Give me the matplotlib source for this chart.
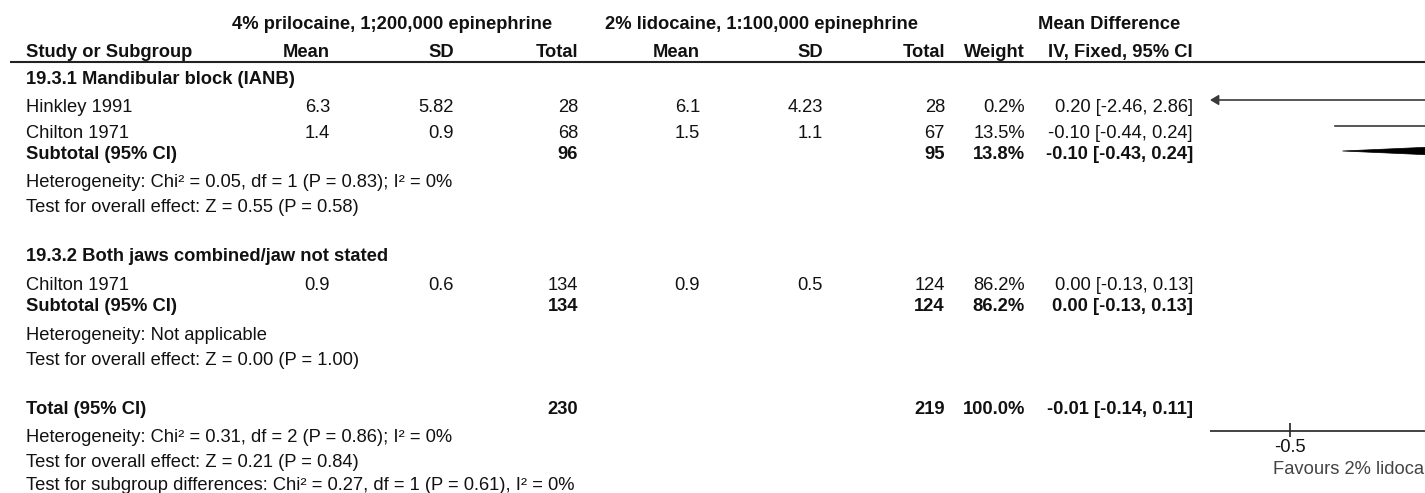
import matplotlib
matplotlib.use("Agg")
import matplotlib.pyplot as plt
from matplotlib.patches import Polygon

plt.rcParams['font.family'] = ['Liberation Sans', 'DejaVu Sans']

# ---- data ----
group_names = ['19.3.1 Mandibular block (IANB)', '19.3.2 Both jaws combined/jaw not stated']
study_names = ['Hinkley 1991', 'Chilton 1971', 'Chilton 1971']
study_group = [0, 0, 1]
exp_mean = [6.3, 1.4, 0.9]
exp_sd = [5.82, 0.9, 0.6]
exp_n = [28, 68, 134]
ctl_mean = [6.1, 1.5, 0.9]
ctl_sd = [4.23, 1.1, 0.5]
ctl_n = [28, 67, 124]
weights = [0.2, 13.5, 86.2]
md = [0.20, -0.10, 0.00]
md_lo = [-2.46, -0.44, -0.13]
md_hi = [2.86, 0.24, 0.13]

sub_exp_n = [96, 134]
sub_ctl_n = [95, 124]
sub_weight = [13.8, 86.2]
sub_md = [-0.10, 0.00]
sub_lo = [-0.43, -0.13]
sub_hi = [0.24, 0.13]
sub_het = ['Heterogeneity: Chi\u00b2 = 0.05, df = 1 (P = 0.83); I\u00b2 = 0%',
           'Heterogeneity: Not applicable']
sub_test = ['Test for overall effect: Z = 0.55 (P = 0.58)',
            'Test for overall effect: Z = 0.00 (P = 1.00)']

total_exp_n = 230
total_ctl_n = 219
total_weight = 100.0
total_md = -0.01
total_lo = -0.14
total_hi = 0.11
total_notes = ['Heterogeneity: Chi\u00b2 = 0.31, df = 2 (P = 0.86); I\u00b2 = 0%',
               'Test for overall effect: Z = 0.21 (P = 0.84)',
               'Test for subgroup differences: Chi\u00b2 = 0.27, df = 1 (P = 0.61), I\u00b2 = 0%']

exp_label = '4% prilocaine, 1;200,000 epinephrine'
ctl_label = '2% lidocaine, 1:100,000 epinephrine'
axis_ticks = [-0.5]
tick_labels = ['-0.5']
favours_left = 'Favours 2% lidocaine'

# ---- layout (pixels) ----
W, H = 1425, 493
FS = 13.2
TXT = '#111111'
x_study = 26
x_m1, x_sd1, x_n1 = 330, 454, 578
x_m2, x_sd2, x_n2 = 700, 823, 945
x_w, x_ci = 1025, 1193

study_base = [112, 138, 290]
study_mark = [100, 126, 278]
group_base = [84, 261]
sub_base = [159, 311]
sub_mark = [151, 303]
het_base = [187, 340]
test_base = [212, 365]
total_base = 414
total_mark = 406
notes_base = [442, 467, 490]
axis_y = 431

fig = plt.figure(figsize=(W / 100, H / 100), dpi=100)
ax = fig.add_axes([0, 0, 1, 1])
ax.set_xlim(0, W)
ax.set_ylim(H, 0)
ax.axis('off')


def t(x, y, s, ha='left', bold=False, color=TXT):
    ax.text(x, y, s, ha=ha, va='baseline', fontsize=FS, color=color,
            fontweight='bold' if bold else 'normal')


def ci_text(m, lo, hi):
    return '%.2f [%.2f, %.2f]' % (m, lo, hi)


# headers
t(392, 29, exp_label, ha='center', bold=True)
t(762, 29, ctl_label, ha='center', bold=True)
t(1109, 29, 'Mean Difference', ha='center', bold=True)
t(x_study, 57, 'Study or Subgroup', bold=True)
for x, s in [(x_m1, 'Mean'), (x_sd1, 'SD'), (x_n1, 'Total'), (x_m2, 'Mean'),
             (x_sd2, 'SD'), (x_n2, 'Total'), (x_w, 'Weight'), (x_ci, 'IV, Fixed, 95% CI')]:
    t(x, 57, s, ha='right', bold=True)
ax.plot([10, W], [62, 62], color='#222222', lw=1.5, solid_capstyle='butt')

# studies
for i, name in enumerate(study_names):
    y = study_base[i]
    t(x_study, y, name)
    t(x_m1, y, str(exp_mean[i]), ha='right')
    t(x_sd1, y, str(exp_sd[i]), ha='right')
    t(x_n1, y, str(exp_n[i]), ha='right')
    t(x_m2, y, str(ctl_mean[i]), ha='right')
    t(x_sd2, y, str(ctl_sd[i]), ha='right')
    t(x_n2, y, str(ctl_n[i]), ha='right')
    t(x_w, y, '%.1f%%' % weights[i], ha='right')
    t(x_ci, y, ci_text(md[i], md_lo[i], md_hi[i]), ha='right')

# subgroups
for g, gname in enumerate(group_names):
    t(x_study, group_base[g], gname, bold=True)
    y = sub_base[g]
    t(x_study, y, 'Subtotal (95% CI)', bold=True)
    t(x_n1, y, str(sub_exp_n[g]), ha='right', bold=True)
    t(x_n2, y, str(sub_ctl_n[g]), ha='right', bold=True)
    t(x_w, y, '%.1f%%' % sub_weight[g], ha='right', bold=True)
    t(x_ci, y, ci_text(sub_md[g], sub_lo[g], sub_hi[g]), ha='right', bold=True)
    t(x_study, het_base[g], sub_het[g])
    t(x_study, test_base[g], sub_test[g])

# total
t(x_study, total_base, 'Total (95% CI)', bold=True)
t(x_n1, total_base, str(total_exp_n), ha='right', bold=True)
t(x_n2, total_base, str(total_ctl_n), ha='right', bold=True)
t(x_w, total_base, '%.1f%%' % total_weight, ha='right', bold=True)
t(x_ci, total_base, ci_text(total_md, total_lo, total_hi), ha='right', bold=True)
for y, s in zip(notes_base, total_notes):
    t(x_study, y, s)

# ---- forest plot (runs past the right edge, as in the original crop) ----
px_per_unit = 750.0
zero_px = 1290 + 0.5 * px_per_unit
left_px = 1210
xmin = (left_px - zero_px) / px_per_unit
xmax = -xmin
right_px = zero_px + xmax * px_per_unit
fx = fig.add_axes([left_px / W, 0, (right_px - left_px) / W, 1])
fx.set_xlim(xmin, xmax)
fx.set_ylim(H, 0)
fx.axis('off')

LINE = '#3a3a3a'
for i in range(len(md)):
    y = study_mark[i]
    lo_c, hi_c = max(md_lo[i], xmin), min(md_hi[i], xmax)
    left_cut, right_cut = md_lo[i] < xmin, md_hi[i] > xmax
    if left_cut or right_cut:
        style = {(True, True): '<|-|>', (True, False): '<|-', (False, True): '-|>'}[(left_cut, right_cut)]
        fx.annotate('', xy=(hi_c, y), xytext=(lo_c, y), annotation_clip=False,
                    arrowprops=dict(arrowstyle=style + ',head_length=0.5,head_width=0.3',
                                    color=LINE, lw=1.2, shrinkA=0, shrinkB=0))
    else:
        fx.plot([lo_c, hi_c], [y, y], color=LINE, lw=1.2)
    sz = 4 + weights[i] ** 0.5 * 1.2
    fx.plot(md[i], y, marker='s', ms=sz, color='#2e9e3a', mec='#2e9e3a')


def diamond(m, lo, hi, y, h=11):
    fx.add_patch(Polygon([(lo, y), (m, y - h), (hi, y), (m, y + h)], closed=True,
                         facecolor='black', edgecolor='black', lw=0.5))


for g in range(len(sub_md)):
    diamond(sub_md[g], sub_lo[g], sub_hi[g], sub_mark[g])
diamond(total_md, total_lo, total_hi, total_mark)

fx.plot([xmin, xmax], [axis_y, axis_y], color='#222222', lw=1.2)
fx.vlines(axis_ticks, axis_y - 8, axis_y + 6, color='#222222', lw=1.2)
for v, lab in zip(axis_ticks, tick_labels):
    fx.text(v, 448, lab, ha='center', va='center', fontsize=FS, color=TXT)
ax.text(1273, 470, favours_left, ha='left', va='center', fontsize=FS, color='#444444')

fig.savefig('out.png', dpi=100)
